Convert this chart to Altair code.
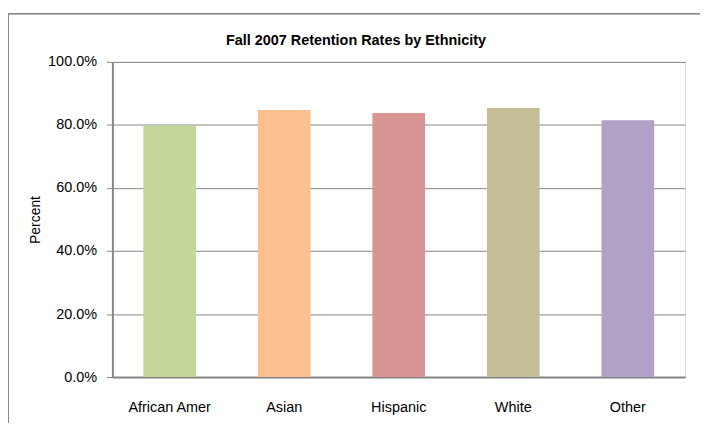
import altair as alt
import pandas as pd

categories = ["African Amer", "Asian", "Hispanic", "White", "Other"]
rates = [0.797, 0.847, 0.838, 0.854, 0.815]
colors = ["#C4D79B", "#FAC090", "#D99594", "#C4BD97", "#B2A1C7"]
title_text = ["Fall 2007 Retention Rates by Ethnicity"]

df = pd.DataFrame({"Ethnicity": categories, "Rate": rates})
tdf = pd.DataFrame({"t": title_text})

FONT = "Liberation Sans"
W, H = 576, 317

bars = alt.Chart(df).mark_bar().encode(
    x=alt.X("Ethnicity:N", sort=categories,
            scale=alt.Scale(paddingInner=0.54, paddingOuter=0.27),
            axis=alt.Axis(title=None, labelAngle=0, ticks=False, labelPadding=24,
                          labelFontSize=14.5, labelFont=FONT, labelColor="#000000",
                          domainColor="#868686", domainWidth=2, grid=False)),
    y=alt.Y("Rate:Q", scale=alt.Scale(domain=[0, 1], nice=False),
            axis=alt.Axis(title="Percent", format=".1%", values=[0, 0.2, 0.4, 0.6, 0.8, 1.0],
                          tickSize=6, tickColor="#868686", tickWidth=1, labelPadding=10,
                          labelFontSize=14.5, labelFont=FONT, labelColor="#000000",
                          domainColor="#868686", domainWidth=2,
                          grid=True, gridColor="#868686", gridWidth=1,
                          titleFont=FONT, titleFontSize=14, titleFontWeight="normal",
                          titleColor="#000000", titleX=-70, titleY=H / 2)),
    color=alt.Color("Ethnicity:N", sort=categories,
                    scale=alt.Scale(domain=categories, range=colors), legend=None),
)

title = alt.Chart(tdf).mark_text(font=FONT, fontSize=14.5, fontWeight="bold", color="#000000",
                                 align="center", baseline="middle").encode(
    text="t:N", x=alt.value(245), y=alt.value(-21)
)

border_top = alt.Chart(df).mark_rule(color="#868686", strokeWidth=1).encode(
    x=alt.value(-105), x2=alt.value(W + 20), y=alt.value(-48.5)
)
border_left = alt.Chart(df).mark_rule(color="#868686", strokeWidth=1).encode(
    x=alt.value(-104.5), y=alt.value(-48.5), y2=alt.value(H + 60)
)

chart = alt.layer(border_top, border_left, bars, title).properties(
    width=W, height=H,
    autosize=alt.AutoSizeParams(type="none"),
    padding={"left": 105, "top": 53, "right": 15, "bottom": 45},
).configure_view(stroke=None).configure(background="white")

chart.save("out.html", embed_options={"renderer": "svg", "actions": False})
